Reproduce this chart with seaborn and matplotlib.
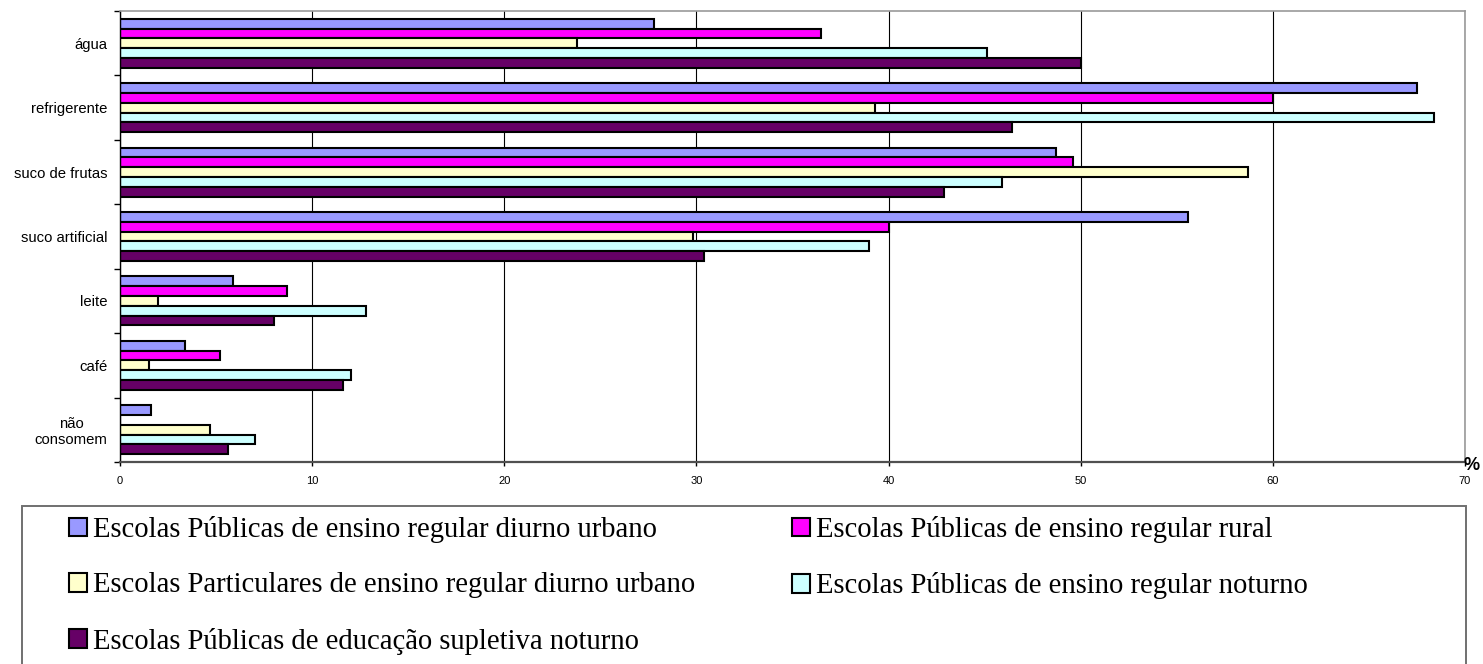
import numpy as np
import pandas as pd
import matplotlib
matplotlib.use("Agg")
import matplotlib.pyplot as plt
from matplotlib.patches import Patch, Rectangle
import seaborn as sns

# categories (top to bottom) and one list per school group, values in %
categorias = ["água", "refrigerente", "suco de frutas", "suco artificial",
              "leite", "café", "não\nconsomem"]
series = [
    "Escolas Públicas de ensino regular diurno urbano",
    "Escolas Públicas de ensino regular rural",
    "Escolas Particulares de ensino regular diurno urbano",
    "Escolas Públicas de ensino regular noturno",
    "Escolas Públicas de educação supletiva noturno",
]
pub_diurno_urbano = [27.8, 67.5, 48.7, 55.6, 5.9, 3.4, 1.6]
pub_rural = [36.5, 60.0, 49.6, 40.0, 8.7, 5.2, 0.0]
part_diurno_urbano = [23.8, 39.3, 58.7, 29.8, 2.0, 1.5, 4.7]
pub_noturno = [45.1, 68.4, 45.9, 39.0, 12.8, 12.0, 7.0]
supletiva_noturno = [50.0, 46.4, 42.9, 30.4, 8.0, 11.6, 5.6]
x_ticks = [0, 10, 20, 30, 40, 50, 60, 70]

cores = ["#9999FF", "#FF00FF", "#FFFFCC", "#CCFFFF", "#660066"]

valores = [pub_diurno_urbano, pub_rural, part_diurno_urbano, pub_noturno, supletiva_noturno]
linhas = []
for nome, vals in zip(series, valores):
    for cat, v in zip(categorias, vals):
        linhas.append({"categoria": cat, "serie": nome, "valor": v})
df = pd.DataFrame(linhas)

sns.set_theme(style="white")
plt.rcParams["font.family"] = ["Liberation Sans", "DejaVu Sans"]
plt.rcParams["text.color"] = "black"
plt.rcParams["xtick.color"] = "black"
plt.rcParams["ytick.color"] = "black"
plt.rcParams["xtick.labelcolor"] = "black"
plt.rcParams["ytick.labelcolor"] = "black"

W, H = 1483, 664
fig = plt.figure(figsize=(W / 100, H / 100), dpi=100)
ax = fig.add_axes([120 / W, 1 - 462 / H, (1465 - 120) / W, (462 - 11) / H])

sns.barplot(data=df, x="valor", y="categoria", hue="serie",
            order=categorias, hue_order=series, palette=cores,
            orient="h", width=0.76, saturation=1, errorbar=None,
            edgecolor="black", linewidth=1.5, legend=False, ax=ax)

ax.set_xlim(0, 70)
ax.set_xticks(x_ticks)
ax.set_xticklabels([str(t) for t in x_ticks], fontsize=8)
ax.tick_params(axis="x", direction="out", length=3, width=1, color="black", pad=7,
               bottom=True)
ax.grid(axis="x", color="black", linewidth=0.8)
ax.grid(axis="y", visible=False)
ax.set_axisbelow(True)

# tick marks on category boundaries, labels at the centres
limites = np.arange(len(categorias) + 1) - 0.5
ax.set_yticks(limites, labels=[""] * len(limites))
ax.set_yticks(range(len(categorias)), labels=categorias, minor=True)
ax.tick_params(axis="y", which="major", direction="out", length=4, width=1,
               color="black", left=True)
ax.tick_params(axis="y", which="minor", length=0, pad=9, labelsize=10.7)
for lab in ax.get_yticklabels(minor=True):
    lab.set_multialignment("center")
ax.set_ylim(len(categorias) - 0.5, -0.5)
ax.set_xlabel("")
ax.set_ylabel("")

ax.spines["left"].set_color("black")
ax.spines["left"].set_linewidth(1)
ax.spines["bottom"].set_color("#505050")
ax.spines["bottom"].set_linewidth(1.6)
for s in ["top", "right"]:
    ax.spines[s].set_color("#999999")
    ax.spines[s].set_linewidth(1.2)

fig.text(1472 / W, 1 - 465 / H, "%", fontsize=13, fontweight="bold",
         ha="center", va="center", color="black")

# legend box (runs off the bottom edge like the original)
fig.add_artist(Rectangle((22 / W, -0.02), (1466 - 22) / W, 0.02 + 1 - 506 / H,
                         transform=fig.transFigure, fill=False,
                         edgecolor="#707070", linewidth=1.4))

handles = [Patch(facecolor=c, edgecolor="black", linewidth=1.5) for c in cores]
ordem = [0, 2, 4, 1, 3]
fig.legend([handles[i] for i in ordem], [series[i] for i in ordem],
           loc="upper left", bbox_to_anchor=(69 / W, 1 - 516 / H), ncol=2,
           frameon=False, borderpad=0, borderaxespad=0, labelcolor="black",
           prop={"family": ["Liberation Serif", "DejaVu Serif"], "size": 20.65},
           handlelength=0.63, handleheight=0.63, handletextpad=0.22,
           labelspacing=1.025, columnspacing=3.35)

fig.savefig("out.png", dpi=100)
